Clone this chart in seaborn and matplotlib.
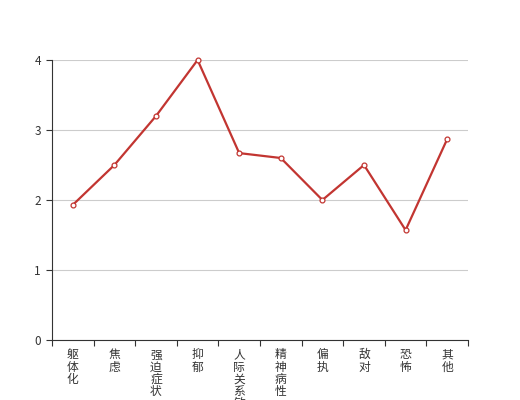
import seaborn as sns
import matplotlib.pyplot as plt
import pandas as pd

# data
categories = ["躯体化", "焦虑", "强迫症状", "抑郁", "人际关系敏感",
              "精神病性", "偏执", "敌对", "恐怖", "其他"]
scores = [1.93, 2.5, 3.2, 4.0, 2.67, 2.6, 2.0, 2.5, 1.57, 2.87]
y_ticks = [0, 1, 2, 3, 4]

df = pd.DataFrame({"pos": range(len(categories)), "score": scores})

sns.set_style("white")
plt.rcParams["font.family"] = ["Noto Sans CJK SC", "DejaVu Sans"]

fig = plt.figure(figsize=(5.2, 4), dpi=100)
ax = fig.add_axes([52 / 520, 60 / 400, 416 / 520, 280 / 400])

sns.lineplot(data=df, x="pos", y="score", ax=ax, color="#c23531",
             linewidth=1.6, marker="o", markersize=3.5,
             markerfacecolor="white", markeredgecolor="#c23531",
             markeredgewidth=0.9, zorder=3, clip_on=False)

ax.set_xlim(-0.5, len(categories) - 0.5)
ax.set_ylim(0, 4)
ax.set_yticks(y_ticks)
ax.set_yticklabels([str(v) for v in y_ticks], fontsize=8.5, color="#333333")
ax.yaxis.grid(True, color="#cccccc", linewidth=0.8)
ax.set_axisbelow(True)

# boundary ticks (major) and centred labels (minor)
ax.set_xticks([i - 0.5 for i in range(len(categories) + 1)])
ax.set_xticklabels([])
ax.set_xticks(range(len(categories)), minor=True)
ax.set_xticklabels(["\n".join(c) for c in categories], minor=True,
                   fontsize=8.5, color="#333333", linespacing=0.92,
                   va="top")
ax.tick_params(axis="x", which="major", bottom=True, direction="out",
               length=4, width=0.8, color="#333333")
ax.tick_params(axis="x", which="minor", bottom=True, length=0, pad=6)
ax.tick_params(axis="y", left=True, direction="out", length=4, width=0.8,
               color="#333333", pad=4)

for s in ["top", "right"]:
    ax.spines[s].set_visible(False)
for s in ["left", "bottom"]:
    ax.spines[s].set_color("#333333")
    ax.spines[s].set_linewidth(0.8)

ax.set_xlabel("")
ax.set_ylabel("")

fig.savefig("out.png", dpi=100)
plt.close(fig)
